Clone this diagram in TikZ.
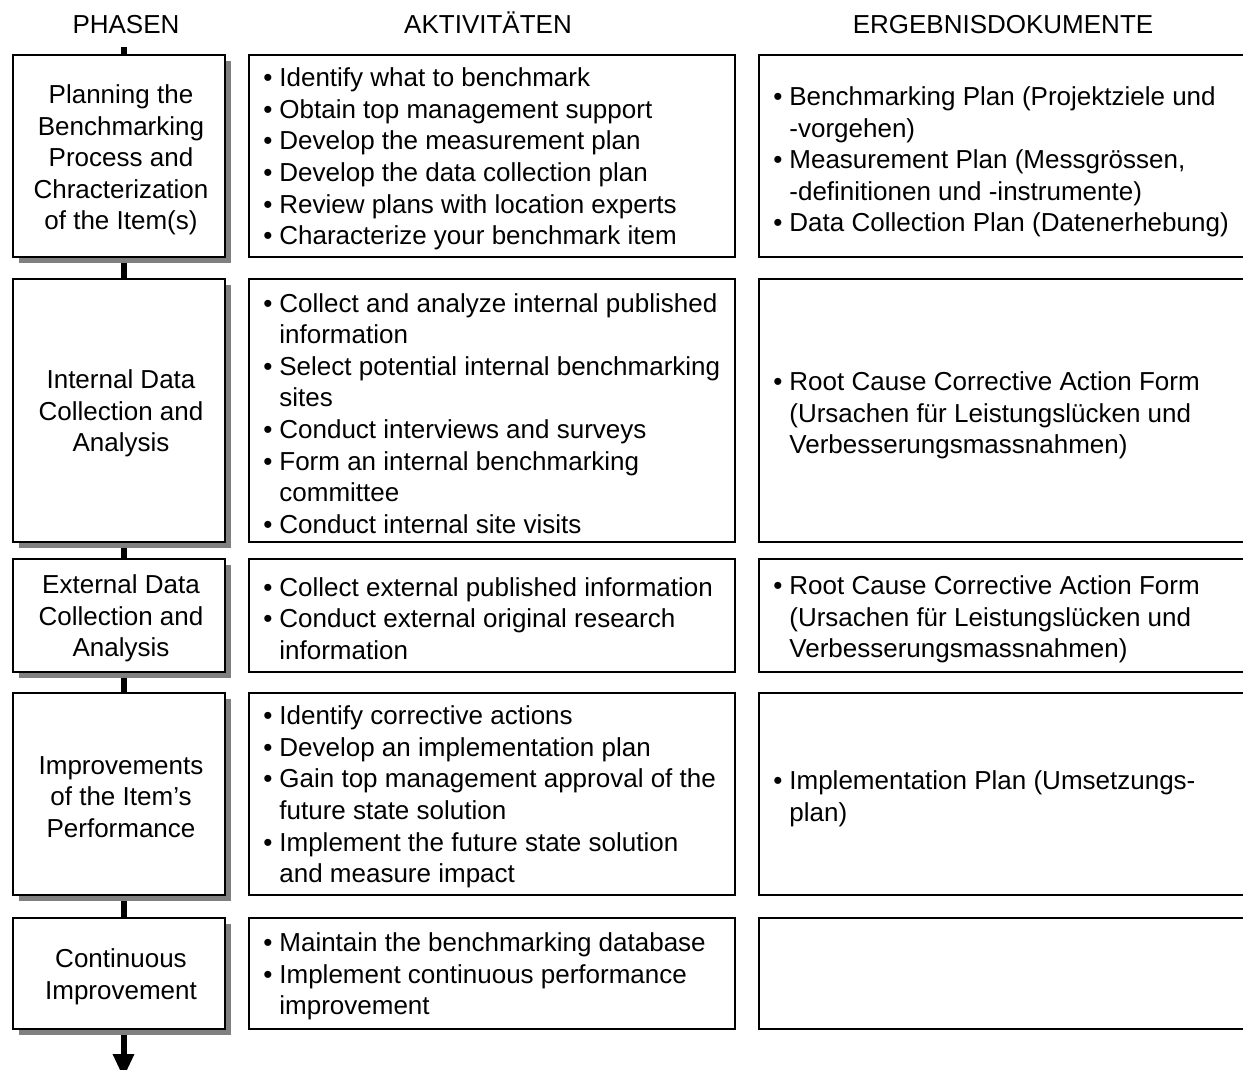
\documentclass[tikz,border=0pt]{standalone}
\usepackage{fontspec}
\setmainfont{Liberation Sans}
\usetikzlibrary{arrows.meta,shadows,backgrounds}

% bulleted line and its hanging continuation
\newcommand\bitem[1]{\makebox[16pt][l]{\textbullet}#1}
\newcommand\bcont[1]{\hspace*{16pt}#1}

\begin{document}
\begin{tikzpicture}[x=1pt,y=-1pt,
  font=\fontsize{26}{31.6}\selectfont,
  phase/.style={draw=black, line width=1.6pt, fill=white,
    minimum width=212pt, inner sep=0pt,
    drop shadow={shadow xshift=6pt, shadow yshift=-6pt, fill=black!50, opacity=1}},
  actbox/.style={draw=black, line width=1.6pt, fill=white, minimum width=486pt, inner sep=0pt},
  docbox/.style={draw=black, line width=1.6pt, fill=white, minimum width=500pt, inner sep=0pt},
  ptext/.style={align=center, inner sep=0pt},
  list/.style={align=left, inner sep=0pt, anchor=west},
  head/.style={inner sep=0pt, anchor=base},
  conn/.style={line width=6pt, draw=black}]

\useasboundingbox (0,0) rectangle (1243,1070);

% column headings
\node[head] (h1) at (126,34) {PHASEN};
\node[head] (h2) at (488,34) {AKTIVITÄTEN};
\node[head] (h3) at (1003,34) {ERGEBNISDOKUMENTE};

% phase boxes
\node[phase, minimum height=202pt] (p1) at (119,156) {};
\node[phase, minimum height=263pt] (p2) at (119,410.5) {};
\node[phase, minimum height=113pt] (p3) at (119,615.5) {};
\node[phase, minimum height=202pt] (p4) at (119,794) {};
\node[phase, minimum height=111pt] (p5) at (119,973.5) {};

% phase names
\node[ptext] (t1) at ([xshift=2pt,yshift=-4pt]p1.center)
  {Planning the\\Benchmarking\\Process and\\Chracterization\\of the Item(s)};
\node[ptext] (t2) at ([xshift=2pt,yshift=-3pt]p2.center)
  {Internal Data\\Collection and\\Analysis};
\node[ptext] (t3) at ([xshift=2pt,yshift=-3pt]p3.center)
  {External Data\\Collection and\\Analysis};
\node[ptext] (t4) at ([xshift=2pt,yshift=-3pt]p4.center)
  {Improvements\\of the Item’s\\Performance};
\node[ptext] (t5) at ([xshift=2pt,yshift=-3pt]p5.center)
  {Continuous\\Improvement};

% activity boxes
\node[actbox, minimum height=202pt] (m1) at (492,156) {};
\node[actbox, minimum height=263pt] (m2) at (492,410.5) {};
\node[actbox, minimum height=113pt] (m3) at (492,615.5) {};
\node[actbox, minimum height=202pt] (m4) at (492,794) {};
\node[actbox, minimum height=111pt] (m5) at (492,973.5) {};

% result document boxes
\node[docbox, minimum height=202pt] (d1) at (1009,156) {};
\node[docbox, minimum height=263pt] (d2) at (1009,410.5) {};
\node[docbox, minimum height=113pt] (d3) at (1009,615.5) {};
\node[docbox, minimum height=202pt] (d4) at (1009,794) {};
\node[docbox, minimum height=111pt] (d5) at (1009,973.5) {};

% activities
\node[list] (a1) at ([xshift=15pt,yshift=-3pt]m1.west) {%
  \bitem{Identify what to benchmark}\\
  \bitem{Obtain top management support}\\
  \bitem{Develop the measurement plan}\\
  \bitem{Develop the data collection plan}\\
  \bitem{Review plans with location experts}\\
  \bitem{Characterize your benchmark item}};
\node[list] (a2) at ([xshift=15pt,yshift=-3pt]m2.west) {%
  \bitem{Collect and analyze internal published}\\
  \bcont{information}\\
  \bitem{Select potential internal benchmarking}\\
  \bcont{sites}\\
  \bitem{Conduct interviews and surveys}\\
  \bitem{Form an internal benchmarking}\\
  \bcont{committee}\\
  \bitem{Conduct internal site visits}};
\node[list] (a3) at ([xshift=15pt,yshift=-3pt]m3.west) {%
  \bitem{Collect external published information}\\
  \bitem{Conduct external original research}\\
  \bcont{information}};
\node[list] (a4) at ([xshift=15pt,yshift=-3pt]m4.west) {%
  \bitem{Identify corrective actions}\\
  \bitem{Develop an implementation plan}\\
  \bitem{Gain top management approval of the}\\
  \bcont{future state solution}\\
  \bitem{Implement the future state solution}\\
  \bcont{and measure impact}};
\node[list] (a5) at ([xshift=15pt,yshift=-3pt]m5.west) {%
  \bitem{Maintain the benchmarking database}\\
  \bitem{Implement continuous performance}\\
  \bcont{improvement}};

% result documents
\node[list] (r1) at ([xshift=15pt,yshift=-6pt]d1.west) {%
  \bitem{Benchmarking Plan (Projektziele und}\\
  \bcont{-vorgehen)}\\
  \bitem{Measurement Plan (Messgrössen,}\\
  \bcont{-definitionen und -instrumente)}\\
  \bitem{Data Collection Plan (Datenerhebung)}};
\node[list] (r2) at ([xshift=15pt,yshift=-5pt]d2.west) {%
  \bitem{Root Cause Corrective Action Form}\\
  \bcont{(Ursachen für Leistungslücken und}\\
  \bcont{Verbesserungsmassnahmen)}};
\node[list] (r3) at ([xshift=15pt,yshift=-4pt]d3.west) {%
  \bitem{Root Cause Corrective Action Form}\\
  \bcont{(Ursachen für Leistungslücken und}\\
  \bcont{Verbesserungsmassnahmen)}};
\node[list] (r4) at ([xshift=15pt,yshift=-5pt]d4.west) {%
  \bitem{Implementation Plan (Umsetzungs-}\\
  \bcont{plan)}};

% flow line through the phases
\coordinate (top) at (123.5,47);
\coordinate (tail) at (123.5,1078);
\begin{scope}[on background layer]
  \draw[conn] (top) -- (top |- p1.north);
  \draw[conn] (p1.south -| top) -- (p2.north -| top);
  \draw[conn] (p2.south -| top) -- (p3.north -| top);
  \draw[conn] (p3.south -| top) -- (p4.north -| top);
  \draw[conn] (p4.south -| top) -- (p5.north -| top);
  \draw[conn, -{Triangle[width=20pt,length=24pt]}] (p5.south -| top) -- (tail);
\end{scope}
\end{tikzpicture}
\end{document}
